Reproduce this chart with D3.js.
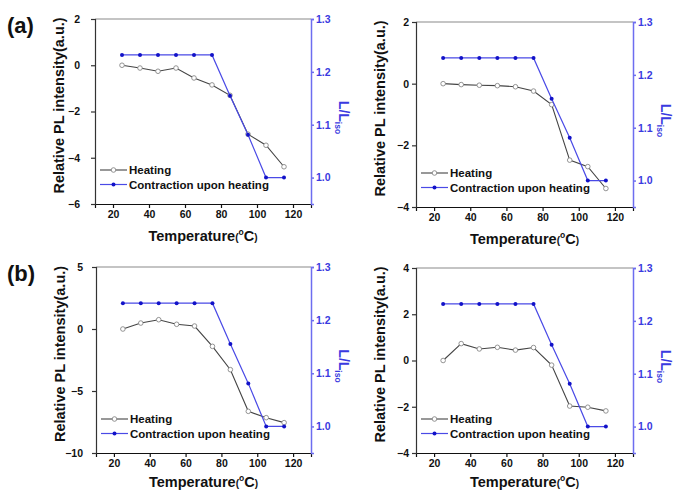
<!DOCTYPE html>
<html>
<head>
<meta charset="utf-8">
<script src="https://cdn.jsdelivr.net/npm/d3@7"></script>
<style>
  body { margin: 0; background: #fff; }
  text { font-family: "Liberation Sans", Arial, sans-serif; font-weight: bold; }
</style>
</head>
<body>
<svg id="chart" width="673" height="491"></svg>
<script>
// temperatures (°C)
const temps = [25, 35, 45, 55, 65, 75, 85, 95, 105, 115]
// relative PL intensity, heating, one per panel
const heatA1 = [0, -0.12, -0.26, -0.12, -0.55, -0.85, -1.3, -2.98, -3.46, -4.39]
const heatA2 = [0, -0.03, -0.05, -0.065, -0.1, -0.24, -0.68, -2.48, -2.69, -3.4]
const heatB1 = [0, 0.48, 0.75, 0.38, 0.24, -1.4, -3.28, -6.64, -7.15, -7.55]
const heatB2 = [0, 0.73, 0.5, 0.57, 0.45, 0.56, -0.2, -1.97, -2.02, -2.18]
// L/L_iso, contraction upon heating (same in every panel)
const contraction = [1.232, 1.232, 1.232, 1.232, 1.232, 1.232, 1.155, 1.081, 1.0, 1.0]

const xTicks = [20, 40, 60, 80, 100, 120]
const rightTicks = [1.0, 1.1, 1.2, 1.3]
const yTicksA1 = [-6, -4, -2, 0, 2]
const yTicksA2 = [-4, -2, 0, 2]
const yTicksB1 = [-10, -5, 0, 5]
const yTicksB2 = [-4, -2, 0, 2, 4]

const panels = [
    {heat: heatA1, ticks: yTicksA1, minor: [-5, -3, -1, 1], left: 95, right: 311, top: 19, bottom: 204, pad: 11, tx: 37, tag: '(a)'},
    {heat: heatA2, ticks: yTicksA2, minor: [-3, -1, 1], left: 416, right: 633, top: 22, bottom: 207, pad: 3, tx: 37},
    {heat: heatB1, ticks: yTicksB1, minor: [-7.5, -2.5, 2.5], left: 96, right: 311, top: 267, bottom: 453, pad: 9, tx: 34, tag: '(b)'},
    {heat: heatB2, ticks: yTicksB2, minor: [-3, -1, 1, 3], left: 416, right: 633, top: 268, bottom: 453, pad: 3, tx: 34}
]

const svg = d3.select('#chart')
const blue = '#3a3ae0', axisBlue = '#6d6df0', markBlue = '#1212c8'

panels.forEach(p => {
    let g = svg.append('g')
    let x = d3.scaleLinear().domain([10, 130]).range([p.left, p.right]),
        y = d3.scaleLinear().domain(d3.extent(p.ticks)).range([p.bottom, p.top]),
        y2 = d3.scaleLinear().domain([0.95, 1.3]).range([p.bottom, p.top])

    // top frame line
    g.append('line')
        .attr('x1', p.left).attr('x2', p.right)
        .attr('y1', p.top).attr('y2', p.top)
        .attr('stroke', '#8a8a8a').attr('stroke-width', 1.2)

    // bottom axis
    let bx = g.append('g')
        .attr('transform', 'translate(0,' + p.bottom + ')')
    bx.call(d3.axisBottom(x).tickValues(d3.range(10, 131, 10)).tickSize(2).tickFormat(''))
    bx.call(d3.axisBottom(x).tickValues(xTicks).tickSize(4).tickPadding(3).tickFormat(d3.format('d')))
    bx.selectAll('path, line').attr('stroke', '#111').attr('stroke-width', 1.2)
    bx.selectAll('text').attr('font-size', 10.5).attr('fill', '#111').attr('font-family', null)

    // left axis
    let lx = g.append('g')
        .attr('transform', 'translate(' + p.left + ',0)')
    lx.call(d3.axisLeft(y).tickValues(p.minor).tickSize(2).tickFormat(''))
    lx.call(d3.axisLeft(y).tickValues(p.ticks).tickSize(4).tickPadding(p.pad).tickFormat(d3.format('d')))
    lx.selectAll('path, line').attr('stroke', '#333').attr('stroke-width', 1.2)
    lx.selectAll('text').attr('font-size', 10.5).attr('fill', '#111').attr('font-family', null)

    // right axis
    let rx = g.append('g')
        .attr('transform', 'translate(' + p.right + ',0)')
    rx.call(d3.axisRight(y2).tickValues([0.95, 1.05, 1.15, 1.25]).tickSize(2).tickFormat(''))
    rx.call(d3.axisRight(y2).tickValues(rightTicks).tickSize(3).tickPadding(2).tickFormat(d3.format('.1f')))
    rx.selectAll('path, line').attr('stroke', axisBlue).attr('stroke-width', 1.5)
    rx.selectAll('text').attr('font-size', 10.5).attr('fill', blue).attr('font-family', null)

    // heating series
    let line = d3.line().x((d, i) => x(temps[i])).y(d => y(d))
    g.append('path')
        .datum(p.heat)
        .attr('d', line)
        .attr('fill', 'none').attr('stroke', '#444').attr('stroke-width', 1.1)
    g.selectAll('.heat')
        .data(p.heat)
        .enter()
        .append('circle')
        .attr('cx', (d, i) => x(temps[i]))
        .attr('cy', d => y(d))
        .attr('r', 2.3)
        .attr('fill', '#fff').attr('stroke', '#888').attr('stroke-width', 0.9)

    // contraction series
    let line2 = d3.line().x((d, i) => x(temps[i])).y(d => y2(d))
    g.append('path')
        .datum(contraction)
        .attr('d', line2)
        .attr('fill', 'none').attr('stroke', '#4a4ae6').attr('stroke-width', 1.2)
    g.selectAll('.cont')
        .data(contraction)
        .enter()
        .append('circle')
        .attr('cx', (d, i) => x(temps[i]))
        .attr('cy', d => y2(d))
        .attr('r', 2)
        .attr('fill', markBlue)

    // legend
    let lg = g.append('g').attr('transform', 'translate(' + (p.left + 5) + ',' + (p.bottom - 34) + ')')
    lg.append('line').attr('x1', 0).attr('x2', 27).attr('y1', 0).attr('y2', 0)
        .attr('stroke', '#444').attr('stroke-width', 1.1)
    lg.append('circle').attr('cx', 13.5).attr('cy', 0).attr('r', 2.3)
        .attr('fill', '#fff').attr('stroke', '#888').attr('stroke-width', 0.9)
    lg.append('text').attr('x', 29).attr('y', 4).attr('font-size', 11.5).attr('fill', '#111').text('Heating')
    lg.append('line').attr('x1', 0).attr('x2', 27).attr('y1', 14.5).attr('y2', 14.5)
        .attr('stroke', '#4a4ae6').attr('stroke-width', 1.2)
    lg.append('circle').attr('cx', 13.5).attr('cy', 14.5).attr('r', 2).attr('fill', markBlue)
    lg.append('text').attr('x', 29).attr('y', 18.5).attr('font-size', 11.5).attr('fill', '#111').text('Contraction upon heating')

    // axis titles
    let cx = (p.left + p.right) / 2, cy = (p.top + p.bottom) / 2
    g.append('text')
        .attr('text-anchor', 'middle')
        .attr('transform', 'translate(' + (p.left - 31) + ',' + (cy - 6) + ') rotate(-90)')
        .attr('font-size', 14.5).attr('fill', '#111')
        .text('Relative PL intensity(a.u.)')

    let xt = g.append('text')
        .attr('text-anchor', 'middle')
        .attr('x', cx).attr('y', p.bottom + p.tx)
        .attr('font-size', 14.5).attr('fill', '#111')
    xt.append('tspan').text('Temperature')
    xt.append('tspan').attr('font-size', 10).text('(')
    xt.append('tspan').attr('font-size', 8.5).attr('dy', -6).text('o')
    xt.append('tspan').attr('font-size', 14.5).attr('dy', 6).text('C')
    xt.append('tspan').attr('font-size', 10).text(')')

    let rt = g.append('text')
        .attr('text-anchor', 'middle')
        .attr('transform', 'translate(' + (p.right + 28) + ',' + (cy + 6) + ') rotate(90)')
        .attr('font-size', 14).attr('fill', blue)
    rt.append('tspan').text('L/L')
    rt.append('tspan').attr('font-size', 8.5).attr('dy', 4).text('iso')

    if (p.tag) {
        svg.append('text')
            .attr('x', 7).attr('y', p.top + 14)
            .attr('font-size', 22).attr('fill', '#111')
            .text(p.tag)
    }
})
</script>
</body>
</html>
